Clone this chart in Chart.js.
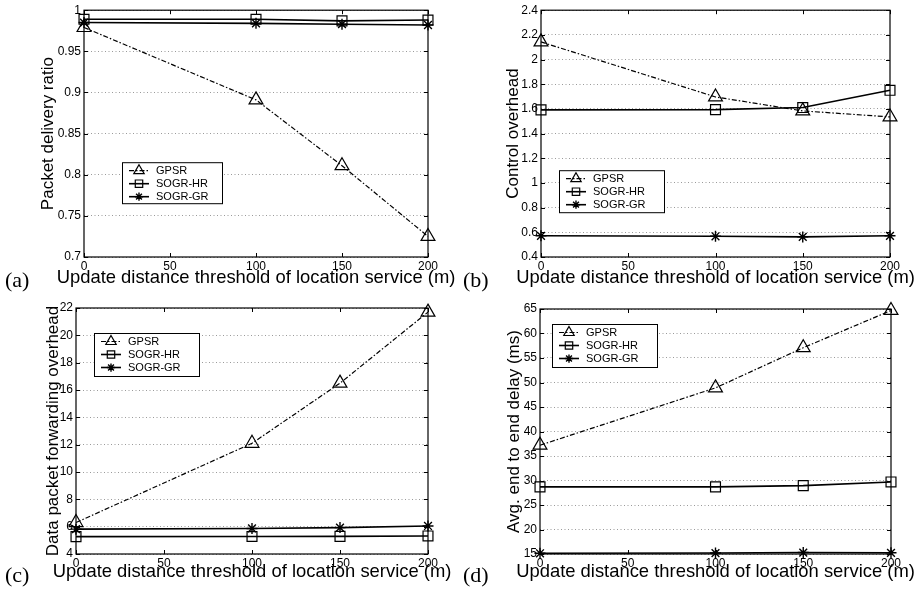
<!DOCTYPE html>
<html>
<head>
<meta charset="utf-8">
<script src="https://cdn.jsdelivr.net/npm/chart.js@4/dist/chart.umd.min.js"></script>
<style>
  body { margin: 0; background: #fff; }
  #page { position: relative; width: 920px; height: 589px; overflow: hidden; }
  .panel { position: absolute; }
  .tag { position: absolute; font-family: "Liberation Serif", serif; font-size: 22px; color: #000; }
</style>
</head>
<body>
<div id="page">
  <div class="panel" style="left:0;top:0;width:460px;height:295px"><canvas id="chartA"></canvas></div>
  <div class="panel" style="left:460px;top:0;width:460px;height:295px"><canvas id="chartB"></canvas></div>
  <div class="panel" style="left:0;top:295px;width:460px;height:294px"><canvas id="chartC"></canvas></div>
  <div class="panel" style="left:460px;top:295px;width:460px;height:294px"><canvas id="chartD"></canvas></div>
  <div class="tag" style="left:5px;top:267px">(a)</div>
  <div class="tag" style="left:463px;top:267px">(b)</div>
  <div class="tag" style="left:5px;top:562px">(c)</div>
  <div class="tag" style="left:463px;top:562px">(d)</div>
</div>
<script>
// x values shared by all four panels
const thresholds = [0, 100, 150, 200];
const xTicks = [0, 50, 100, 150, 200];
const seriesNames = ['GPSR', 'SOGR-HR', 'SOGR-GR'];
const xTitle = 'Update distance threshold of location service (m)';

// (a) packet delivery ratio
const deliveryGPSR = [0.979, 0.891, 0.811, 0.725];
const deliveryHR = [0.989, 0.989, 0.987, 0.988];
const deliveryGR = [0.985, 0.984, 0.983, 0.982];
const deliveryTicks = [0.7, 0.75, 0.8, 0.85, 0.9, 0.95, 1];

// (b) control overhead
const controlGPSR = [2.143, 1.697, 1.584, 1.535];
const controlHR = [1.592, 1.594, 1.611, 1.751];
const controlGR = [0.572, 0.568, 0.563, 0.572];
const controlTicks = [0.4, 0.6, 0.8, 1, 1.2, 1.4, 1.6, 1.8, 2, 2.2, 2.4];

// (c) data packet forwarding overhead
const forwardGPSR = [6.3, 12.1, 16.5, 21.7];
const forwardHR = [5.27, 5.28, 5.29, 5.32];
const forwardGR = [5.82, 5.87, 5.93, 6.05];
const forwardTicks = [4, 6, 8, 10, 12, 14, 16, 18, 20, 22];

// (d) average end to end delay
const delayGPSR = [37.2, 48.9, 57.1, 64.7];
const delayHR = [28.7, 28.7, 28.95, 29.7];
const delayGR = [15.15, 15.2, 15.3, 15.25];
const delayTicks = [15, 20, 25, 30, 35, 40, 45, 50, 55, 60, 65];

const FONT = '"Liberation Sans", Arial, Helvetica, sans-serif';

function toPoints(ys) {
    return thresholds.map((x, i) => ({ x: x, y: ys[i] }));
}

function makeDatasets(gpsr, hr, gr) {
    return [{
        label: seriesNames[0],
        data: toPoints(gpsr),
        clip: false,
        borderColor: '#000',
        borderWidth: 1.2,
        borderDash: [5, 2, 1.5, 2],
        pointStyle: 'triangle',
        pointRadius: 8,
        pointBorderWidth: 1.2,
        pointBorderColor: '#000',
        pointBackgroundColor: 'rgba(0,0,0,0)'
    }, {
        label: seriesNames[1],
        data: toPoints(hr),
        clip: false,
        borderColor: '#000',
        borderWidth: 1.6,
        pointStyle: 'rect',
        pointRadius: 7,
        pointBorderWidth: 1.2,
        pointBorderColor: '#000',
        pointBackgroundColor: 'rgba(0,0,0,0)'
    }, {
        label: seriesNames[2],
        data: toPoints(gr),
        clip: false,
        borderColor: '#000',
        borderWidth: 1.6,
        pointStyle: 'star',
        pointRadius: 5.5,
        pointBorderWidth: 1.4,
        pointBorderColor: '#000',
        pointBackgroundColor: 'rgba(0,0,0,0)'
    }];
}

// frame, inward tick marks, x title (no maxWidth squeeze) and the boxed legend
const framePlugin = {
    id: 'frame',
    beforeDatasetsDraw(chart) {
        const { ctx, chartArea: a, scales } = chart;
        ctx.save();
        ctx.strokeStyle = '#000';
        ctx.lineWidth = 1.2;
        ctx.setLineDash([]);
        ctx.strokeRect(a.left, a.top, a.right - a.left, a.bottom - a.top);
        ctx.lineWidth = 1;
        ctx.beginPath();
        scales.y.ticks.forEach(t => {
            const py = Math.round(scales.y.getPixelForValue(t.value)) + 0.5;
            ctx.moveTo(a.left, py); ctx.lineTo(a.left + 4, py);
            ctx.moveTo(a.right, py); ctx.lineTo(a.right - 4, py);
        });
        scales.x.ticks.forEach(t => {
            const px = Math.round(scales.x.getPixelForValue(t.value)) + 0.5;
            ctx.moveTo(px, a.bottom); ctx.lineTo(px, a.bottom - 4);
            ctx.moveTo(px, a.top); ctx.lineTo(px, a.top + 4);
        });
        ctx.stroke();
        ctx.restore();
    },
    afterDraw(chart) {
        const opts = chart.options.plugins.frame;
        const { ctx, chartArea: a } = chart;
        ctx.save();
        ctx.fillStyle = '#000';
        ctx.font = '18.4px ' + FONT;
        ctx.textAlign = 'center';
        ctx.textBaseline = 'middle';
        ctx.fillText(opts.xTitle, (a.left + a.right) / 2, chart.height - 17);
        ctx.restore();

        const L = opts.legend;
        const bx = a.left + L.x, by = a.top + L.y;
        ctx.save();
        ctx.fillStyle = '#fff';
        ctx.fillRect(bx, by, L.w, L.h);
        ctx.strokeStyle = '#000';
        ctx.lineWidth = 1;
        ctx.setLineDash([]);
        ctx.strokeRect(bx + 0.5, by + 0.5, L.w, L.h);
        ctx.font = '11px ' + FONT;
        ctx.textBaseline = 'middle';
        chart.data.datasets.forEach((ds, i) => {
            const cy = by + 8.5 + i * 13;
            ctx.strokeStyle = '#000';
            ctx.lineWidth = ds.borderWidth;
            ctx.setLineDash(ds.borderDash || []);
            ctx.beginPath();
            ctx.moveTo(bx + 7, cy);
            ctx.lineTo(bx + 27, cy);
            ctx.stroke();
            ctx.setLineDash([]);
            ctx.lineWidth = ds.pointBorderWidth;
            ctx.fillStyle = 'rgba(0,0,0,0)';
            Chart.helpers.drawPoint(ctx, {
                pointStyle: ds.pointStyle,
                radius: ds.pointRadius * 0.75,
                rotation: 0,
                borderWidth: ds.pointBorderWidth
            }, bx + 17, cy);
            ctx.fillStyle = '#000';
            ctx.fillText(ds.label, bx + 34, cy + 0.5);
        });
        ctx.restore();
    }
};

function createPanel(id, datasets, yTicks, yTitle, box, legend) {
    const canvas = document.getElementById(id);
    const W = canvas.parentNode.clientWidth;
    const H = canvas.parentNode.clientHeight;
    new Chart(canvas, {
        type: 'line',
        data: { datasets: datasets },
        options: {
            responsive: true,
            maintainAspectRatio: false,
            animation: false,
            layout: { padding: { left: 0, top: box.top, right: W - box.right, bottom: 0 } },
            plugins: {
                legend: { display: false },
                tooltip: { enabled: false },
                frame: { legend: legend, xTitle: xTitle }
            },
            scales: {
                x: {
                    type: 'linear',
                    min: xTicks[0],
                    max: xTicks[xTicks.length - 1],
                    afterBuildTicks: s => { s.ticks = xTicks.map(v => ({ value: v })); },
                    afterFit: s => { s.height = H - box.bottom; },
                    grid: { display: false, drawTicks: false },
                    border: { display: false },
                    ticks: {
                        padding: 2,
                        color: '#000',
                        font: { family: FONT, size: 12 },
                        maxRotation: 0,
                        callback: v => String(v)
                    },
                    title: { display: false }
                },
                y: {
                    type: 'linear',
                    min: yTicks[0],
                    max: yTicks[yTicks.length - 1],
                    afterBuildTicks: s => { s.ticks = yTicks.map(v => ({ value: v })); },
                    afterFit: s => { s.width = box.left; },
                    grid: { display: true, drawTicks: false, color: '#9a9a9a', lineWidth: 1 },
                    border: { display: false, dash: [1, 2.5] },
                    ticks: {
                        padding: 3,
                        color: '#000',
                        font: { family: FONT, size: 12 },
                        callback: v => String(v)
                    },
                    title: {
                        display: true,
                        text: yTitle,
                        color: '#000',
                        font: { family: FONT, size: 17 },
                        padding: { top: box.titleGap, bottom: 0 }
                    }
                }
            }
        },
        plugins: [framePlugin]
    });
}

document.addEventListener('DOMContentLoaded', function() {
    createPanel('chartA', makeDatasets(deliveryGPSR, deliveryHR, deliveryGR), deliveryTicks,
        'Packet delivery ratio',
        { left: 84, right: 428, top: 10, bottom: 257, titleGap: 38 },
        { x: 38, y: 152, w: 100, h: 41 });
    createPanel('chartB', makeDatasets(controlGPSR, controlHR, controlGR), controlTicks,
        'Control overhead',
        { left: 81, right: 430, top: 10, bottom: 257, titleGap: 43 },
        { x: 18, y: 160, w: 105, h: 42 });
    createPanel('chartC', makeDatasets(forwardGPSR, forwardHR, forwardGR), forwardTicks,
        'Data packet forwarding overhead',
        { left: 76, right: 428, top: 13, bottom: 259, titleGap: 43 },
        { x: 18, y: 25, w: 105, h: 43 });
    createPanel('chartD', makeDatasets(delayGPSR, delayHR, delayGR), delayTicks,
        'Avg. end to end delay (ms)',
        { left: 80, right: 431, top: 14, bottom: 259, titleGap: 44 },
        { x: 12, y: 15, w: 105, h: 43 });
});
</script>
</body>
</html>
